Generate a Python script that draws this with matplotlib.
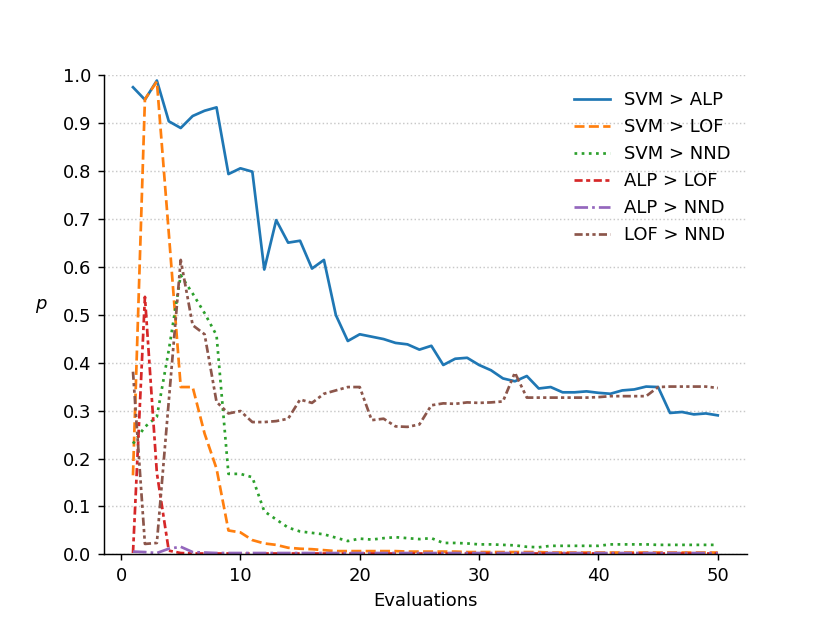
"""Pairwise comparison p-values over evaluations."""

import matplotlib
matplotlib.use("Agg")
import matplotlib.pyplot as plt
import numpy as np

evaluations = np.arange(1, 51)

svm_alp = [0.974, 0.948, 0.988, 0.903, 0.889, 0.914, 0.925, 0.932, 0.793, 0.805,
           0.798, 0.594, 0.697, 0.650, 0.654, 0.596, 0.614, 0.499, 0.445, 0.459,
           0.454, 0.449, 0.441, 0.438, 0.427, 0.435, 0.395, 0.408, 0.410, 0.395,
           0.384, 0.367, 0.361, 0.372, 0.346, 0.349, 0.338, 0.338, 0.340, 0.337,
           0.335, 0.342, 0.344, 0.350, 0.349, 0.295, 0.297, 0.292, 0.294, 0.290]

svm_lof = [0.165, 0.949, 0.986, 0.670, 0.349, 0.349, 0.252, 0.179, 0.050, 0.046,
           0.030, 0.023, 0.020, 0.014, 0.012, 0.011, 0.009, 0.007, 0.007, 0.007,
           0.007, 0.007, 0.007, 0.006, 0.006, 0.006, 0.006, 0.006, 0.005, 0.005,
           0.005, 0.005, 0.005, 0.005, 0.005, 0.004, 0.004, 0.004, 0.004, 0.004,
           0.004, 0.004, 0.004, 0.004, 0.004, 0.004, 0.004, 0.004, 0.004, 0.004]

svm_nnd = [0.231, 0.266, 0.287, 0.426, 0.582, 0.544, 0.503, 0.457, 0.168, 0.168,
           0.161, 0.090, 0.073, 0.056, 0.048, 0.045, 0.042, 0.035, 0.028, 0.033,
           0.031, 0.034, 0.036, 0.034, 0.032, 0.034, 0.024, 0.024, 0.023, 0.021,
           0.021, 0.020, 0.019, 0.016, 0.015, 0.018, 0.018, 0.018, 0.018, 0.018,
           0.021, 0.021, 0.021, 0.021, 0.020, 0.020, 0.020, 0.020, 0.020, 0.020]

alp_lof = [0.003, 0.537, 0.170, 0.008, 0.003, 0.002, 0.002, 0.002, 0.002, 0.002,
           0.002, 0.002, 0.002, 0.002, 0.002, 0.002, 0.002, 0.002, 0.002, 0.002,
           0.002, 0.002, 0.002, 0.002, 0.002, 0.002, 0.002, 0.002, 0.002, 0.002,
           0.002, 0.002, 0.002, 0.002, 0.002, 0.002, 0.002, 0.002, 0.002, 0.002,
           0.002, 0.002, 0.002, 0.002, 0.002, 0.002, 0.002, 0.002, 0.002, 0.002]

alp_nnd = [0.006, 0.005, 0.003, 0.012, 0.016, 0.005, 0.004, 0.003, 0.003, 0.003,
           0.003, 0.003, 0.003, 0.003, 0.003, 0.003, 0.003, 0.003, 0.003, 0.003,
           0.003, 0.003, 0.003, 0.003, 0.003, 0.003, 0.003, 0.003, 0.003, 0.003,
           0.003, 0.003, 0.003, 0.003, 0.003, 0.003, 0.003, 0.003, 0.003, 0.003,
           0.003, 0.003, 0.003, 0.003, 0.003, 0.003, 0.003, 0.003, 0.003, 0.003]

lof_nnd = [0.381, 0.022, 0.024, 0.320, 0.614, 0.478, 0.459, 0.318, 0.294, 0.299,
           0.276, 0.276, 0.278, 0.283, 0.323, 0.316, 0.335, 0.342, 0.349, 0.349,
           0.280, 0.283, 0.267, 0.266, 0.271, 0.311, 0.315, 0.314, 0.317, 0.316,
           0.317, 0.319, 0.379, 0.327, 0.327, 0.327, 0.327, 0.327, 0.327, 0.328,
           0.330, 0.330, 0.330, 0.330, 0.349, 0.350, 0.350, 0.350, 0.350, 0.347]

series = [
    ("SVM > ALP", svm_alp, "-"),
    ("SVM > LOF", svm_lof, "--"),
    ("SVM > NND", svm_nnd, ":"),
    ("ALP > LOF", alp_lof, (0, (3, 1.3, 1.5, 1.3))),
    ("ALP > NND", alp_nnd, (0, (5, 1.5, 1, 1.5))),
    ("LOF > NND", lof_nnd, (0, (3, 1.2, 1.2, 1.2, 1.2, 1.2))),
]


def main() -> None:
    fig, ax = plt.subplots(figsize=(830 / 130, 623 / 130), dpi=130)
    for label, values, style in series:
        ax.plot(evaluations, values, linestyle=style, label=label)

    ax.set_ylim(0, 1.0)
    ax.set_yticks(np.arange(0, 1.01, 0.1))
    ax.yaxis.grid(True, linestyle=":", color="#c8c8c8")
    ax.set_axisbelow(True)
    ax.spines["top"].set_visible(False)
    ax.spines["right"].set_visible(False)
    ax.set_xlabel("Evaluations")
    ax.set_ylabel("$p$", rotation=0, labelpad=12)
    ax.legend(frameon=False, loc="upper right")

    fig.savefig("out.png", dpi=130)
    plt.close(fig)


if __name__ == "__main__":
    main()
